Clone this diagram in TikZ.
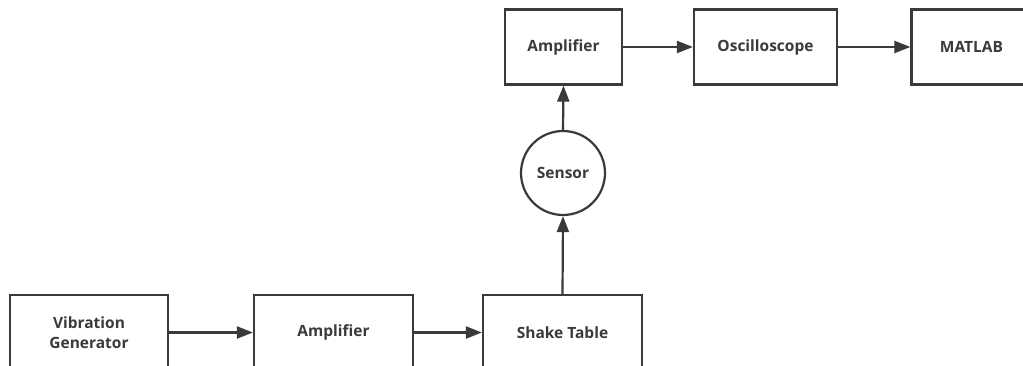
\documentclass[tikz,border=0pt]{standalone}
\usepackage{fontspec}
\setmainfont{Open Sans}
\usetikzlibrary{arrows.meta}
\definecolor{ink}{HTML}{3A3A3A}
\begin{document}
\begin{tikzpicture}[x=1pt,y=1pt,
  block/.style={draw=ink, line width=2.2pt, minimum height=75pt, inner sep=0pt,
    font=\fontsize{15.5}{19.5}\selectfont\bfseries, text=ink, align=center},
  round/.style={draw=ink, line width=2.2pt, circle, minimum size=84pt, inner sep=0pt,
    font=\fontsize{15.5}{19}\selectfont\bfseries, text=ink},
  flow/.style={draw=ink, line width=2.2pt, -{Triangle[length=16pt,width=12pt]}}]
\useasboundingbox (0,0) rectangle (1023,366);
\clip (0,0) rectangle (1023,366);
\fill[white] (0,0) rectangle (1023,366);
% bottom row: excitation chain
\node[block, minimum width=158pt] (vg) at (89,33.5) {Vibration\\Generator};
\node[block, minimum width=159pt] (amp1) at (333.5,33.5) {Amplifier};
\node[block, minimum width=159pt] (st) at (562.5,33.5) {Shake Table};
% pickup
\node[round] (sen) at (563,193) {Sensor};
% top row: measurement chain
\node[block, minimum width=117pt] (amp2) at (563.5,319) {Amplifier};
\node[block, minimum width=143pt] (osc) at (765.5,319) {Oscilloscope};
\node[block, minimum width=120pt] (mat) at (971.5,319) {MATLAB};
\draw[flow] (vg) -- (amp1);
\draw[flow] (amp1) -- (st);
\draw[flow] (st.north) -- (sen.south);
\draw[flow] (sen.north) -- (amp2.south);
\draw[flow] (amp2) -- (osc);
\draw[flow] (osc) -- (mat);
\end{tikzpicture}
\end{document}
